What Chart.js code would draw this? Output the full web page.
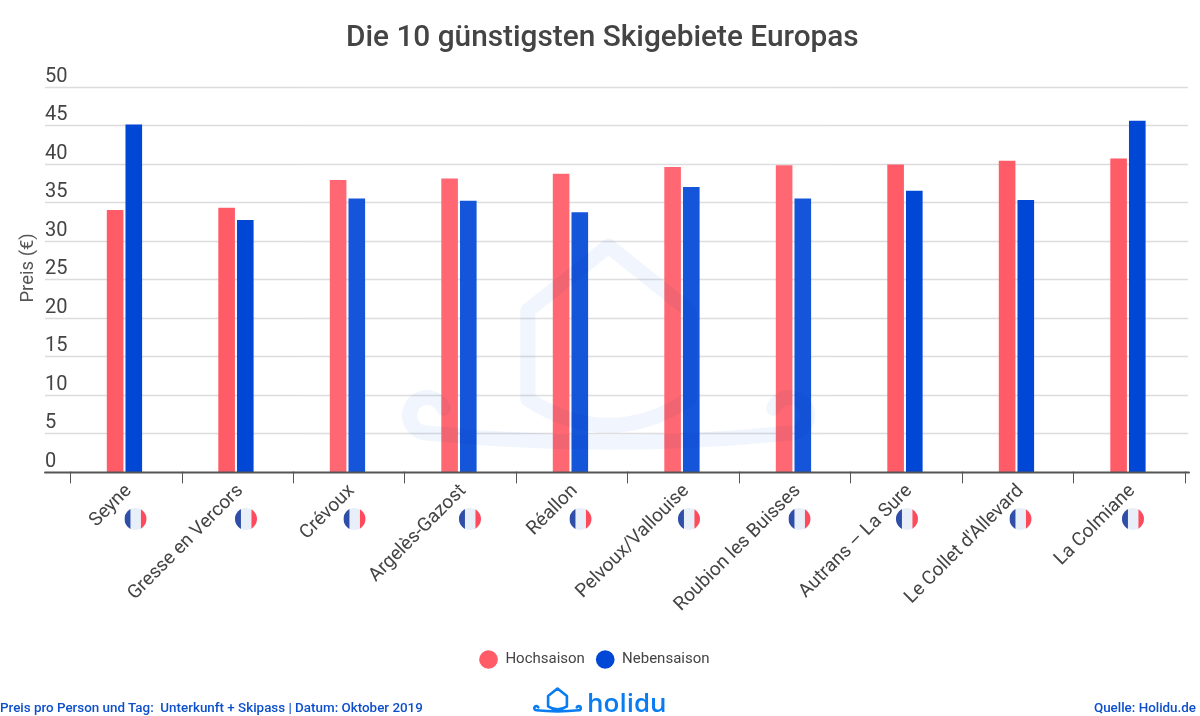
<!DOCTYPE html>
<html>
<head>
<meta charset="utf-8">
<style>
  html, body { margin: 0; padding: 0; background: #fff; }
  #wrap { position: relative; width: 1200px; height: 716px; overflow: hidden; font-family: Roboto, sans-serif; }
  #myChart { position: absolute; left: 0; top: 0; }
  .note { position: absolute; top: 700px; font-size: 13.4px; font-weight: 500; color: #0d4fcb; white-space: pre; }
  #brand { position: absolute; left: 587px; top: 684px; font-size: 26px; font-weight: 600; color: #0a7cf2; font-family: "Open Sans", Roboto, sans-serif; line-height: 36px; }
</style>
</head>
<body>
<div id="wrap">
  <canvas id="myChart" width="1200" height="716"></canvas>
  <div class="note" style="left:0">Preis pro Person und Tag:  Unterkunft + Skipass | Datum: Oktober 2019</div>
  <div class="note" style="right:4px">Quelle: Holidu.de</div>
  <div id="brand">holidu</div>
</div>
<script src="https://cdn.jsdelivr.net/npm/chart.js@4"></script>
<script>
const resorts = ["Seyne", "Gresse en Vercors", "Crévoux", "Argelès-Gazost", "Réallon", "Pelvoux/Vallouise", "Roubion les Buisses", "Autrans – La Sure", "Le Collet d'Allevard", "La Colmiane"];
const hochsaison = [34, 34.3, 37.9, 38.1, 38.7, 39.6, 39.8, 39.9, 40.4, 40.7];
const nebensaison = [45.1, 32.7, 35.5, 35.2, 33.7, 37, 35.5, 36.5, 35.3, 45.6];
const flagOffsets = [11, 10, 7, 11, 10, 7, 6, 2, 4, 5];

const red = "#ff5c68";
const blue = "#0047d6";
const grey = "#444444";
const tickShift = 1.3;

// holidu house, drawn in a 100 x 50 box
function housePath(ctx, dx, dy, s) {
  function X(v) { return dx + v * s; }
  function Y(v) { return dy + v * s; }
  ctx.beginPath();
  ctx.moveTo(X(30), Y(39));
  ctx.lineTo(X(30), Y(17));
  ctx.lineTo(X(50), Y(1));
  ctx.lineTo(X(70), Y(17));
  ctx.lineTo(X(70), Y(39));
  ctx.quadraticCurveTo(X(50), Y(52), X(30), Y(39));
  ctx.moveTo(X(9), Y(41));
  ctx.arc(X(5), Y(43), 4.4 * s, -0.4, Math.PI * 0.5, true);
  ctx.quadraticCurveTo(X(50), Y(52), X(95), Y(47.4));
  ctx.arc(X(95), Y(43), 4.4 * s, Math.PI * 0.5, Math.PI + 0.4, true);
}

const sheetLines = {
  id: "sheetLines",
  afterLayout(chart) {
    // tick labels start at 45, the axis title sits a bit above the middle
    chart.scales.y.left = 45;
    chart.scales.y.top -= 23;
    chart.legend.left -= 16;
  },
  beforeDatasetsDraw(chart) {
    const y = chart.scales.y;
    const ctx = chart.ctx;
    ctx.save();
    y.ticks.forEach(function (t) {
      if (t.value === 0) return;
      const py = Math.round(y.getPixelForValue(t.value)) + 0.5;
      ctx.strokeStyle = "#dcdcde";
      ctx.lineWidth = 1.5;
      ctx.beginPath();
      ctx.moveTo(45, py);
      ctx.lineTo(1188, py);
      ctx.stroke();
    });
    ctx.restore();
  },
  afterDatasetsDraw(chart) {
    const ctx = chart.ctx;
    const x = chart.scales.x;
    const y = chart.scales.y;
    const y0 = y.getPixelForValue(0);
    const step = x.getPixelForValue(1) - x.getPixelForValue(0);
    ctx.save();
    // watermark: pale sheet over the middle bars, faint house on top
    ctx.fillStyle = "rgba(255,255,255,0.08)";
    ctx.fillRect(300, y.getPixelForValue(50), 530, y0 - y.getPixelForValue(50));
    ctx.globalCompositeOperation = "multiply";
    ctx.strokeStyle = "#f1f5fd";
    ctx.lineWidth = 15;
    ctx.lineJoin = "round";
    ctx.lineCap = "round";
    housePath(ctx, 407, 242, 4.03);
    ctx.stroke();
    ctx.globalCompositeOperation = "source-over";
    // base line and ticks
    ctx.strokeStyle = "#555555";
    ctx.lineWidth = 2;
    ctx.beginPath();
    ctx.moveTo(45, y0 + 0.5);
    ctx.lineTo(1189, y0 + 0.5);
    ctx.stroke();
    ctx.lineWidth = 1;
    for (let i = 0; i <= resorts.length; i++) {
      const px = Math.round(x.getPixelForValue(0) + (i - 0.5) * step + tickShift) + 0.5;
      ctx.beginPath();
      ctx.moveTo(px, y0);
      ctx.lineTo(px, y0 + 11);
      ctx.stroke();
    }
    // flags
    resorts.forEach(function (r, i) {
      const cx = x.getPixelForValue(i) + flagOffsets[i];
      const cy = 519;
      ctx.save();
      ctx.beginPath();
      ctx.arc(cx, cy, 11, 0, Math.PI * 2);
      ctx.clip();
      ctx.fillStyle = "#e8eff9";
      ctx.fillRect(cx - 11, cy - 11, 22, 22);
      ctx.fillStyle = "#2f4ea8";
      ctx.fillRect(cx - 11, cy - 11, 6, 22);
      ctx.fillStyle = "#ff4a5c";
      ctx.fillRect(cx + 5.5, cy - 11, 6, 22);
      ctx.restore();
    });
    // logo next to brand text
    ctx.strokeStyle = "#0a7cf2";
    ctx.lineWidth = 2.6;
    ctx.lineJoin = "round";
    ctx.lineCap = "round";
    housePath(ctx, 534, 688, 0.47);
    ctx.stroke();
    ctx.restore();
  },
};

const ctx = document.getElementById("myChart").getContext("2d");
const myChart = new Chart(ctx, {
  type: "bar",
  data: {
    labels: resorts,
    datasets: [
      { label: "Hochsaison", data: hochsaison, backgroundColor: red, borderWidth: 0 },
      { label: "Nebensaison", data: nebensaison, backgroundColor: blue, borderWidth: 0 },
    ],
  },
  options: {
    responsive: false,
    animation: false,
    devicePixelRatio: 1,
    categoryPercentage: 0.335,
    barPercentage: 0.89,
    layout: { padding: { left: 21, right: 16.3, top: 0, bottom: 39 } },
    plugins: {
      title: {
        display: true,
        text: "Die 10 günstigsten Skigebiete Europas",
        color: grey,
        font: { family: "Roboto", size: 29.8, weight: "500" },
        padding: { top: 21, bottom: 30 },
      },
      legend: {
        position: "bottom",
        labels: {
          usePointStyle: true,
          pointStyle: "circle",
          pointStyleWidth: 18.7,
          boxHeight: 13.2,
          padding: 11,
          color: grey,
          font: { family: "Roboto", size: 15 },
        },
      },
      tooltip: { enabled: false },
    },
    scales: {
      x: {
        grid: { display: false },
        border: { display: false },
        afterFit(scale) {
          scale.height = 169;
        },
        ticks: {
          color: grey,
          font: { family: "Roboto", size: 19 },
          minRotation: 45,
          maxRotation: 45,
          padding: 0,
          labelOffset: 4.3,
          autoSkip: false,
        },
      },
      y: {
        min: 0,
        max: 50,
        grid: { display: false },
        border: { display: false },
        afterFit(scale) {
          scale.width = 47.7;
        },
        title: {
          display: true,
          text: "Preis (€)",
          color: "#555555",
          font: { family: "Roboto", size: 18.5 },
          padding: { top: -28, bottom: 0 },
        },
        ticks: {
          stepSize: 5,
          color: grey,
          font: { family: "Roboto", size: 20 },
          crossAlign: "far",
          labelOffset: -10,
          padding: 0,
        },
      },
    },
  },
  plugins: [sheetLines],
});
</script>
</body>
</html>
